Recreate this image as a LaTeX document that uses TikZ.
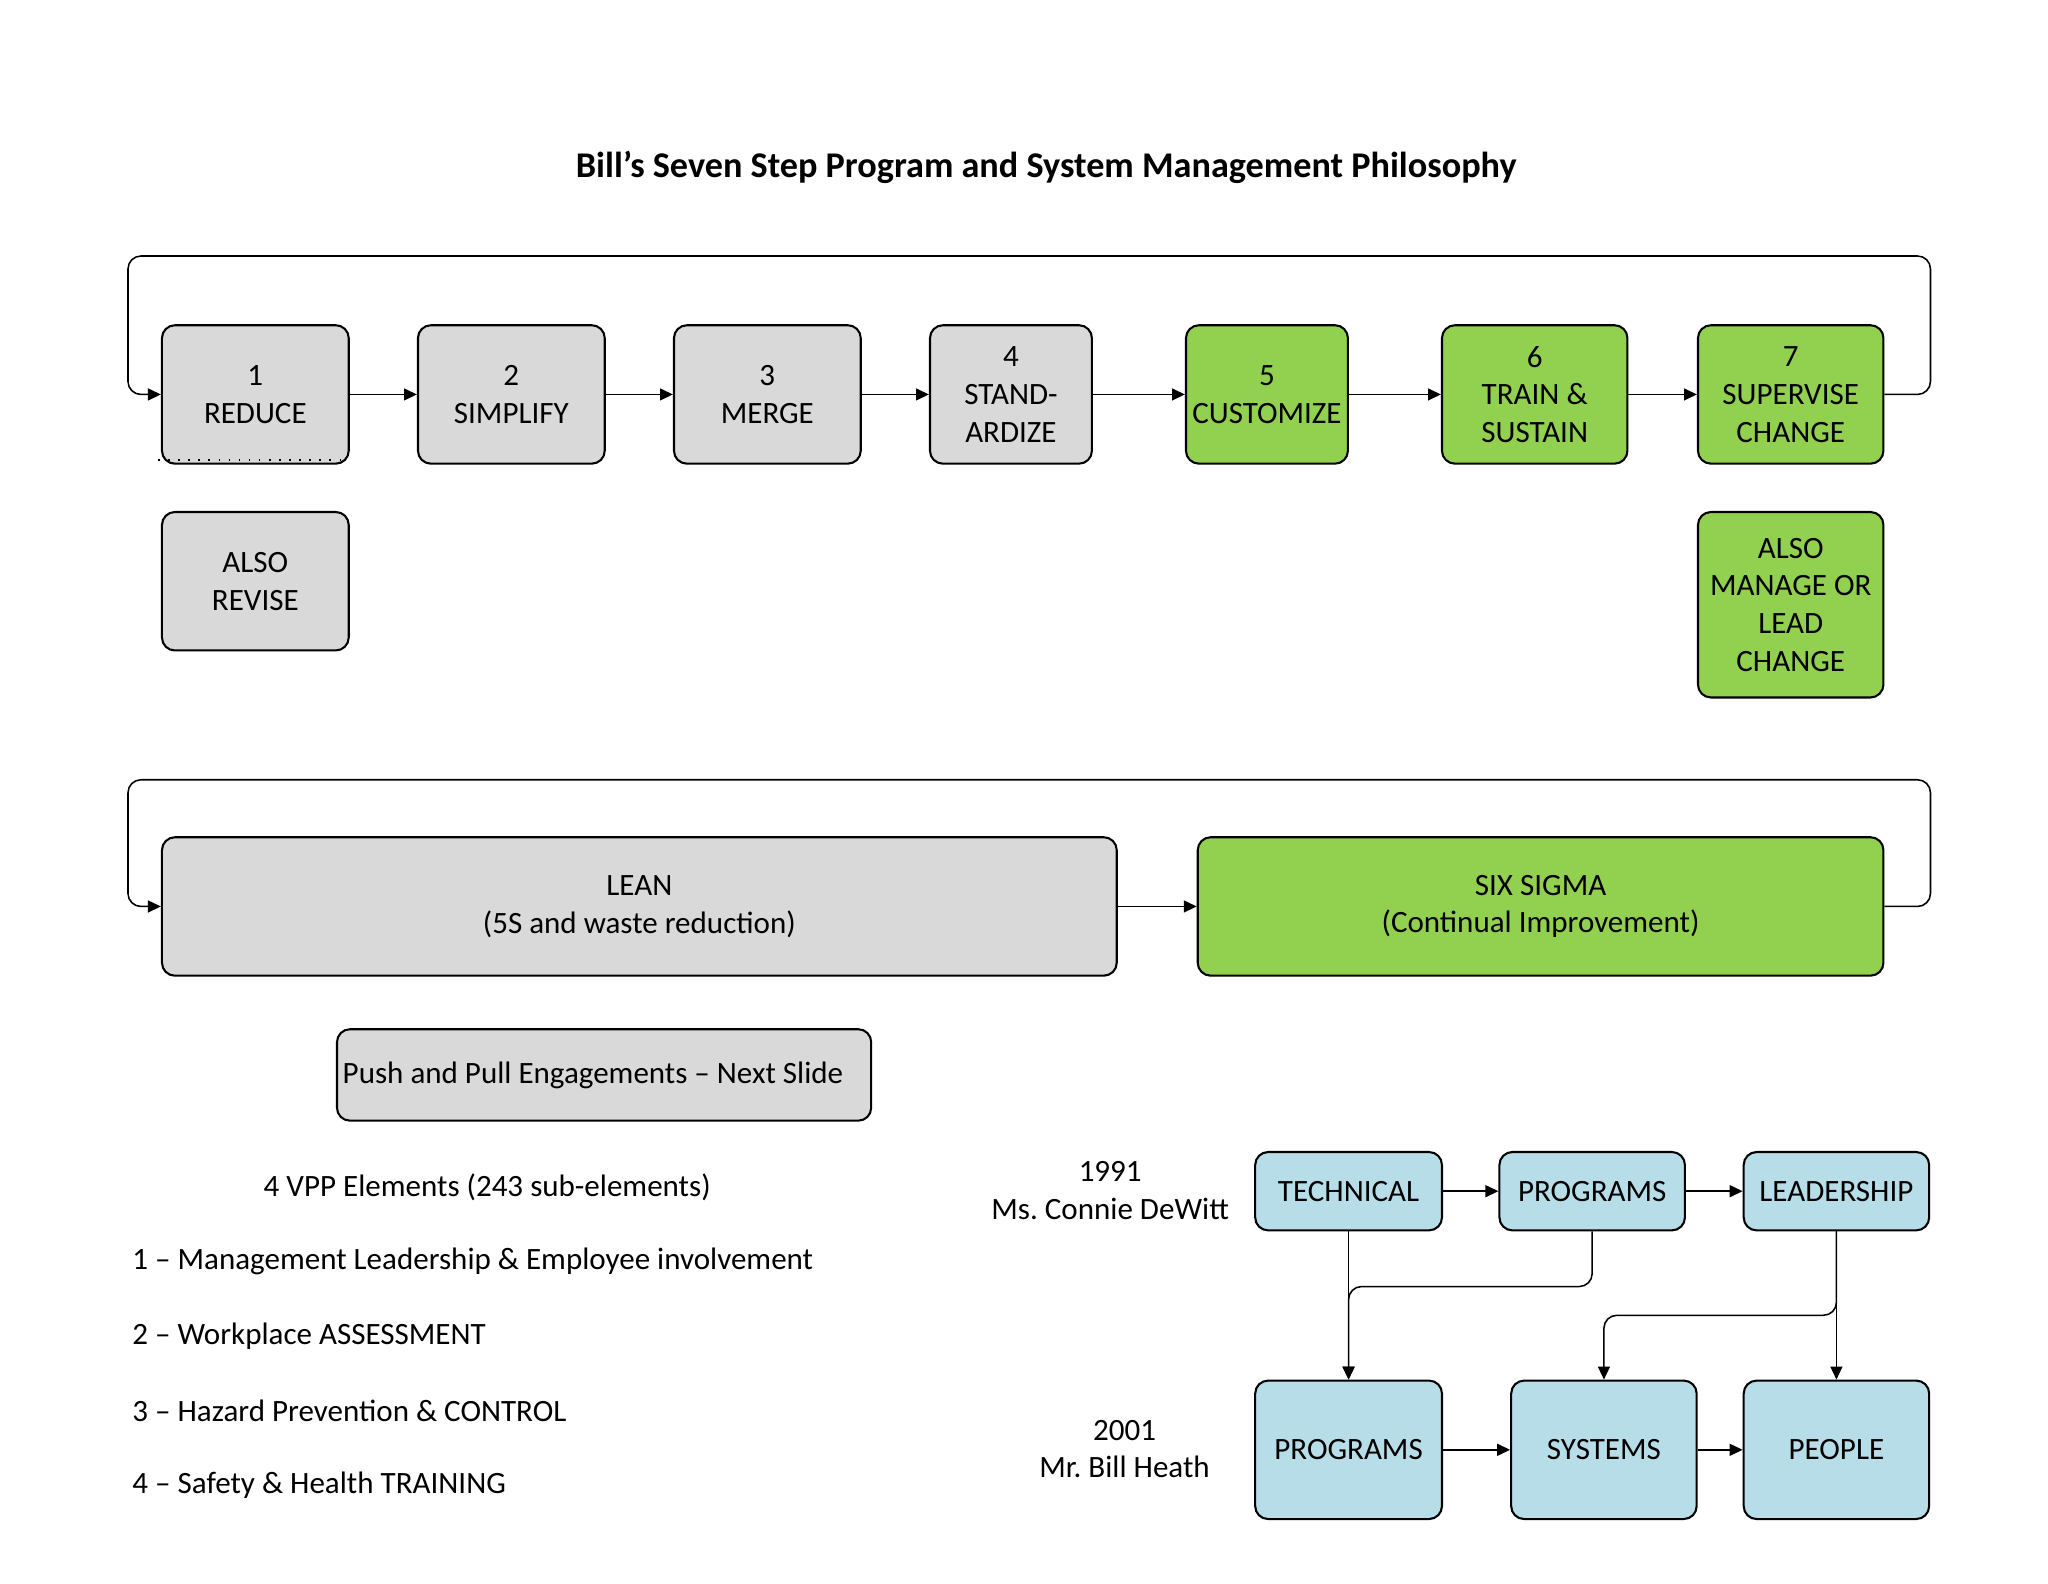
\documentclass[tikz,border=0pt]{standalone}
\usepackage{fontspec}
\setmainfont{Carlito}
\usetikzlibrary{arrows.meta}
\definecolor{boxgray}{HTML}{D9D9D9}
\definecolor{boxgreen}{HTML}{92D050}
\definecolor{boxblue}{HTML}{B7DEE8}
\frenchspacing
\tikzset{
  every node/.style={font=\fontsize{12}{14.6}\selectfont},
  sz/.style 2 args={minimum width=#1*0.5051pt, minimum height=#2*0.5051pt},
  basebox/.style={draw=black, line width=0.8pt, rounded corners=5pt, inner sep=0pt, align=center},
  stepgray/.style={basebox, fill=boxgray},
  stepgreen/.style={basebox, fill=boxgreen},
  stepblue/.style={basebox, fill=boxblue},
  conn/.style={draw=black, line width=0.6pt, -{Triangle[length=5pt,width=4.6pt]}},
  loopline/.style={conn, rounded corners=5pt},
  plain/.style={inner sep=0pt, align=center},
}
\begin{document}
\begin{tikzpicture}[x=0.5051pt, y=-0.5051pt]
\useasboundingbox (0,0) rectangle (1568,1212);
\fill[white] (0,0) rectangle (1568,1212);

% title
\node[plain, font=\fontsize{14}{17}\selectfont\bfseries] (title) at (801,128) {Bill’s Seven Step Program and System Management Philosophy};

% seven steps
\node[stepgray, sz={143}{106}] (n1) at (195.5,302) {1\\REDUCE};
\node[stepgray, sz={143}{106}] (n2) at (391.5,302) {2\\SIMPLIFY};
\node[stepgray, sz={143}{106}] (n3) at (587.5,302) {3\\MERGE};
\node[stepgray, sz={124}{106}] (n4) at (774,302) {4\\STAND-\\ARDIZE};
\node[stepgreen, sz={124}{106}] (n5) at (970,302) {5\\CUSTOMIZE};
\node[stepgreen, sz={142}{106}] (n6) at (1175,302) {6\\TRAIN \&\\SUSTAIN};
\node[stepgreen, sz={142}{106}] (n7) at (1371,302) {7\\SUPERVISE\\CHANGE};

\node[stepgray, sz={143}{106}] (rev) at (195.5,445) {ALSO\\REVISE};
\node[stepgreen, sz={142}{142}] (mng) at (1371,463) {ALSO\\MANAGE OR\\LEAD\\CHANGE};

% dotted mark under REDUCE
\draw[line width=0.7pt, dash pattern=on 0.6pt off 3.3pt] (121,352) -- (262,352);

\draw[conn] (n1) -- (n2);
\draw[conn] (n2) -- (n3);
\draw[conn] (n3) -- (n4);
\draw[conn] (n4) -- (n5);
\draw[conn] (n5) -- (n6);
\draw[conn] (n6) -- (n7);

\coordinate (l1a) at (1478,196);
\coordinate (l1b) at (98,196);
\draw[loopline] (n7.east) -| (l1a) -- (l1b) |- (n1.west);

% lean / six sigma
\node[stepgray, sz={731}{106}] (lean) at (489.5,694) {LEAN\\(5S and waste reduction)};
\node[stepgreen, sz={525}{106}] (six) at (1179.5,694) {SIX SIGMA\\(Continual Improvement)};
\draw[conn] (lean) -- (six);
\coordinate (l2a) at (1478,597);
\coordinate (l2b) at (98,597);
\draw[loopline] (six.east) -| (l2a) -- (l2b) |- (lean.west);

\node[stepgray, sz={409}{70}] (push) at (462.5,823) {Push and Pull Engagements – Next Slide\kern8.6pt};

% VPP texts
\node[plain] (vpp) at (373,909) {4 VPP Elements (243 sub-elements)};
\node[plain, anchor=west] (e1) at (101,966) {1 – Management Leadership \& Employee involvement};
\node[plain, anchor=west] (e2) at (101,1023) {2 – Workplace ASSESSMENT};
\node[plain, anchor=west] (e3) at (101,1080) {3 – Hazard Prevention \& CONTROL};
\node[plain, anchor=west] (e4) at (101,1137) {4 – Safety \& Health TRAINING};

\node[plain] (y1991) at (850,911.5) {1991\\Ms. Connie DeWitt};
\node[plain] (y2001) at (861,1109.5) {2001\\Mr. Bill Heath};

% blue diagram
\node[stepblue, sz={143}{60}] (tech) at (1032.5,912) {TECHNICAL};
\node[stepblue, sz={142}{60}] (prog1) at (1219,912) {PROGRAMS};
\node[stepblue, sz={142}{60}] (lead) at (1406,912) {LEADERSHIP};
\node[stepblue, sz={143}{106}] (prog2) at (1032.5,1110) {PROGRAMS};
\node[stepblue, sz={142}{106}] (sys) at (1228,1110) {SYSTEMS};
\node[stepblue, sz={142}{106}] (peo) at (1406,1110) {PEOPLE};

\draw[conn] (tech) -- (prog1);
\draw[conn] (prog1) -- (lead);
\draw[conn] (prog2) -- (sys);
\draw[conn] (sys) -- (peo);

\draw[conn] (tech.south) -- (prog2.north);
\coordinate (j1) at (1032.5,985);
\draw[conn, rounded corners=5pt] (prog1.south) |- (j1) -- (prog2.north);
\draw[conn] (lead.south) -- (peo.north);
\coordinate (j2) at (1406,1007);
\draw[conn, rounded corners=5pt] (lead.south) -- (j2) -| (sys.north);
\end{tikzpicture}
\end{document}
